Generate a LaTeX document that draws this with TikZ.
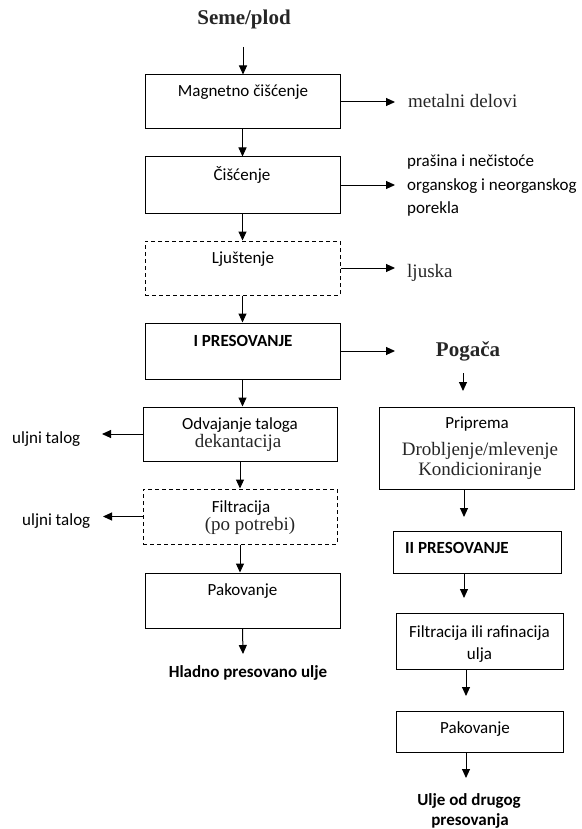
\documentclass[tikz,border=0pt]{standalone}
\usepackage{fontspec}
\setmainfont{Liberation Serif}
\newfontfamily\calfont{Carlito}
\usetikzlibrary{arrows.meta}

\tikzset{
  box/.style={draw, line width=1pt, rectangle, inner sep=0pt},
  optbox/.style={box, dash pattern=on 4pt off 3pt},
  flow/.style={line width=1pt, -{Triangle[length=9pt,width=8pt]}},
  cal/.style={font=\calfont\fontsize{17}{20}\selectfont, inner sep=0pt, anchor=base},
  calb/.style={font=\calfont\bfseries\fontsize{17}{20}\selectfont, inner sep=0pt, anchor=base},
  rom/.style={font=\fontsize{19}{22}\selectfont, text=black!85, inner sep=0pt, anchor=base},
  romb/.style={font=\bfseries\fontsize{21}{24}\selectfont, text=black!85, inner sep=0pt, anchor=base},
}

\begin{document}
\begin{tikzpicture}[x=1pt, y=-1pt]
\useasboundingbox (0,0) rectangle (581,829);

% ---- main line: first pressing ----
\node[romb] (seme) at (244,25) {Seme/plod};
\coordinate (semeA) at (243,47);

\node[box, minimum width=195pt, minimum height=54pt] (b1) at (242.5,102) {};
\node[cal] (t1) at (243,97) {Magnetno čišćenje};
\node[rom, anchor=base west] (o1) at (408,108) {metalni delovi};

\node[box, minimum width=195pt, minimum height=56pt] (b2) at (242.5,185) {};
\node[cal] (t2) at (242,180) {Čišćenje};
\node[cal, anchor=base west] (o2a) at (407,167) {prašina i nečistoće};
\node[cal, anchor=base west] (o2b) at (407,190) {organskog i neorganskog};
\node[cal, anchor=base west] (o2c) at (407,213) {porekla};

\node[optbox, minimum width=195pt, minimum height=54pt] (b3) at (242.5,268) {};
\node[cal] (t3) at (243,263) {Ljuštenje};
\node[rom, anchor=base west] (o3) at (407,277) {ljuska};

\node[box, minimum width=195pt, minimum height=56pt] (b4) at (242.5,351) {};
\node[calb] (t4) at (243,346) {I PRESOVANJE};
\node[romb] (pog) at (468,356) {Pogača};

\node[box, minimum width=194pt, minimum height=54pt] (b5) at (240,434) {};
\node[cal] (t5a) at (240,429) {Odvajanje taloga};
\node[rom] (t5b) at (238,447) {dekantacija};
\node[cal, anchor=base west] (o5) at (12,443) {uljni talog};

\node[optbox, minimum width=194pt, minimum height=55pt] (b6) at (240,516.5) {};
\node[cal] (t6a) at (241,512) {Filtracija};
\node[rom] (t6b) at (250,530) {(po potrebi)};
\node[cal, anchor=base west] (o6) at (22,525) {uljni talog};

\node[box, minimum width=195pt, minimum height=55pt] (b7) at (242.5,600.5) {};
\node[cal] (t7) at (242.5,595) {Pakovanje};
\node[calb] (end1) at (248,677) {Hladno presovano ulje};

% ---- second pressing of the cake ----
\node[box, minimum width=195pt, minimum height=82pt] (c1) at (476.5,448) {};
\node[cal] (s1a) at (477,428) {Priprema};
\node[rom] (s1b) at (480,455) {Drobljenje/mlevenje};
\node[rom] (s1c) at (480,475) {Kondicioniranje};

\node[box, minimum width=168pt, minimum height=42pt] (c2) at (477,552) {};
\node[calb, anchor=base west] (s2) at (405,553) {II PRESOVANJE};

\node[box, minimum width=167pt, minimum height=56pt] (c3) at (479.5,641) {};
\node[cal] (s3a) at (479.5,637) {Filtracija ili rafinacija};
\node[cal] (s3b) at (479.5,659) {ulja};

\node[box, minimum width=167pt, minimum height=41pt] (c4) at (479.5,731.5) {};
\node[cal] (s4) at (475,733) {Pakovanje};
\node[calb] (end2a) at (469,805) {Ulje od drugog};
\node[calb] (end2b) at (470,825) {presovanja};

% ---- connectors ----
\coordinate (e1) at (395,102);
\coordinate (e2) at (395,185);
\coordinate (e3) at (395,268);
\coordinate (e4) at (395,351);
\coordinate (w5) at (102,434);
\coordinate (w6) at (103,516.5);
\coordinate (endA) at (243,654);
\coordinate (pogA) at (463,373);
\coordinate (pogB) at (463,391);
\coordinate (c1B) at (464,517);
\coordinate (c2B) at (464,598);
\coordinate (c3B) at (466,696);
\coordinate (c4B) at (466,778);

\draw[flow] (semeA) -- (semeA |- b1.north);
\draw[flow] (b1.south) -- (b2.north);
\draw[flow] (b2.south) -- (b3.north);
\draw[flow] (b3.south) -- (b4.north);
\draw[flow] (b4.south) -- (b4.south |- b5.north);
\draw[flow] (b5.south) -- (b6.north);
\draw[flow] (b6.south) -- (b6.south |- b7.north);
\draw[flow] (b7.south) -- (endA);

\draw[flow] (b1.east) -- (e1);
\draw[flow] (b2.east) -- (e2);
\draw[flow] (b3.east) -- (e3);
\draw[flow] (b4.east) -- (e4);
\draw[flow] (b5.west) -- (w5);
\draw[flow] (b6.west) -- (w6);

\draw[flow] (pogA) -- (pogB);
\draw[flow] (c1B |- c1.south) -- (c1B);
\draw[flow] (c2B |- c2.south) -- (c2B);
\draw[flow] (c3B |- c3.south) -- (c3B);
\draw[flow] (c4B |- c4.south) -- (c4B);
\end{tikzpicture}
\end{document}
